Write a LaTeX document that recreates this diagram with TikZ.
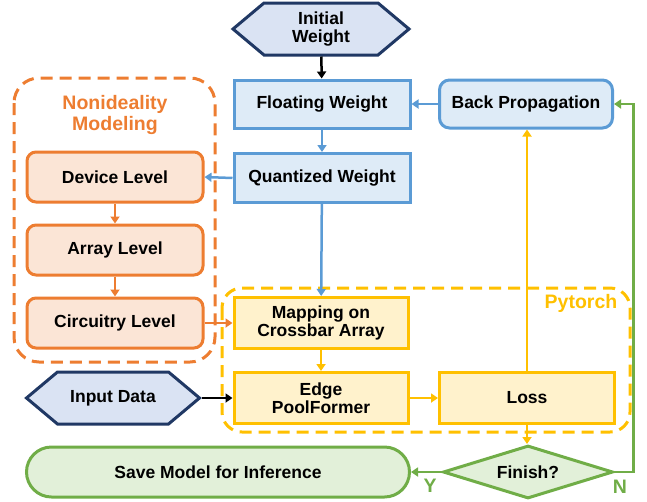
\documentclass[tikz,border=0pt]{standalone}
\usepackage{fontspec}
\setmainfont{Liberation Sans}
\usetikzlibrary{shapes.geometric,shapes.symbols,arrows.meta}
\definecolor{navyline}{HTML}{203864}
\definecolor{navyfill}{HTML}{DAE3F3}
\definecolor{blueline}{HTML}{5B9BD5}
\definecolor{bluefill}{HTML}{DEEBF7}
\definecolor{orangeline}{HTML}{ED7D31}
\definecolor{orangefill}{HTML}{FBE5D6}
\definecolor{yellowline}{HTML}{FFC000}
\definecolor{yellowfill}{HTML}{FFF2CC}
\definecolor{greenline}{HTML}{70AD47}
\definecolor{greenfill}{HTML}{E2F0D9}
\tikzset{
  every node/.style={font=\fontsize{17.5}{20}\selectfont\bfseries, align=center},
  grouplabel/.style={font=\fontsize{19.5}{22}\selectfont\bfseries},
  hexbox/.style={draw=navyline, fill=navyfill, line width=3pt, shape=signal, signal to=west and east, signal pointer angle=80, minimum width=176pt, minimum height=52pt, inner sep=0pt},
  bluebox/.style={draw=blueline, fill=bluefill, line width=3pt, minimum width=176pt, minimum height=48pt},
  orangebox/.style={draw=orangeline, fill=orangefill, line width=3pt, rounded corners=9pt, minimum width=176pt, minimum height=50pt},
  yellowbox/.style={draw=yellowline, fill=yellowfill, line width=3pt, minimum width=174pt, minimum height=51pt},
  greenbox/.style={draw=greenline, fill=greenfill, line width=3pt},
  groupbox/.style={line width=3pt, dash pattern=on 12pt off 7pt, rounded corners=25pt},
  link/.style={->, line width=2.5pt}
}
\begin{document}
\begin{tikzpicture}[x=1pt, y=-1pt, >={Triangle[length=7pt,width=9pt]}]
\useasboundingbox (0,0) rectangle (647,501);
% dashed groups
\draw[groupbox, draw=orangeline] (14,78) rectangle (215,362);
\draw[groupbox, draw=yellowline, rounded corners=20pt] (222,288) rectangle (630,432);
\node[grouplabel, text=orangeline] (nonideal) at (115,115) {Nonideality\\[-1pt]Modeling};
\node[grouplabel, text=yellowline] (pytorch) at (581,303) {Pytorch};
% weight path
\node[hexbox] (initial) at (321,29) {Initial\\[-2pt]Weight};
\node[bluebox] (floating) at (322,104) {Floating Weight};
\node[bluebox, rounded corners=10pt, minimum width=173pt] (back) at (526,104) {Back Propagation};
\node[bluebox, minimum height=49pt] (quant) at (322,178) {Quantized Weight};
% nonideality levels
\node[orangebox] (device) at (115,177) {Device Level};
\node[orangebox] (array) at (115,250) {Array Level};
\node[orangebox] (circuit) at (115,323) {Circuitry Level};
% pytorch part
\node[yellowbox] (mapping) at (321,323) {Mapping on\\[-2pt]Crossbar Array};
\node[yellowbox] (edge) at (321,398) {Edge\\[-2pt]PoolFormer};
\node[yellowbox, minimum width=175pt] (loss) at (527,398) {Loss};
\node[hexbox, minimum width=173pt] (input) at (113,398) {Input Data};
% end
\node[greenbox, shape=diamond, aspect=3.2, inner sep=0pt, minimum width=170pt, minimum height=53pt] (finish) at (528,472) {Finish?};
\node[greenbox, rounded corners=25pt, minimum width=383pt, minimum height=50pt] (save) at (218,472) {Save Model for Inference};
\node[grouplabel, text=greenline] (yes) at (430,486) {Y};
\node[grouplabel, text=greenline] (no) at (620,487) {N};
\draw[link, black] (initial) -- (floating);
\draw[link, blueline] (back) -- (floating);
\draw[link, blueline] (floating) -- (quant);
\draw[link, blueline] (quant.west) -- (device.east);
\draw[link, blueline] (quant) -- (mapping);
\draw[link, orangeline] (device) -- (array);
\draw[link, orangeline] (array) -- (circuit);
\draw[link, orangeline] (circuit) -- (mapping);
\draw[link, yellowline] (mapping) -- (edge);
\draw[link, black] (input) -- (edge);
\draw[link, yellowline] (edge) -- (loss);
\draw[link, yellowline] (loss.north) -- (loss.north |- back.south);
\draw[link, yellowline] (loss.south) -- (loss.south |- finish.north);
\draw[link, greenline] (finish) -- (save);
\draw[link, greenline] (finish.east) -- ++(19,0) |- (back.east);
\end{tikzpicture}
\end{document}
